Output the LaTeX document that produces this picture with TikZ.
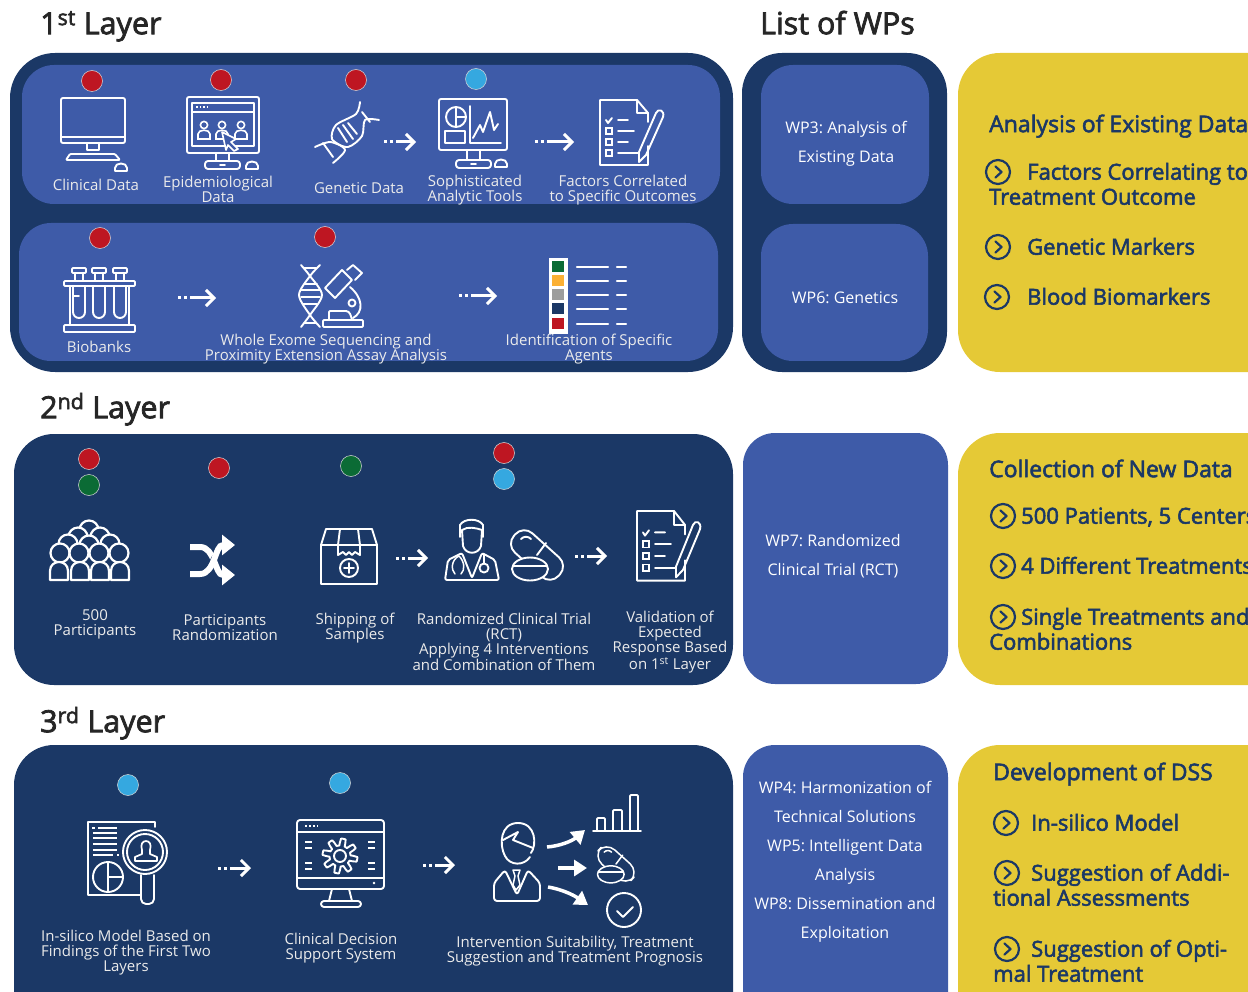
\documentclass[tikz,border=0pt]{standalone}
\usepackage{fontspec}
\setmainfont{Open Sans}
\newfontfamily\semibold[FakeBold=2.5]{Open Sans}
\usetikzlibrary{arrows.meta,positioning}
\definecolor{navy}{HTML}{1B3866}
\definecolor{midblue}{HTML}{3E5BA8}
\definecolor{mustard}{HTML}{E5C936}
\definecolor{dotred}{HTML}{BE1622}
\definecolor{dotgreen}{HTML}{0B6B35}
\definecolor{dotcyan}{HTML}{35A8E0}
\definecolor{swatchorange}{HTML}{FBB034}
\definecolor{swatchgray}{HTML}{9D9D9C}
\tikzset{
  panel/.style={rectangle, rounded corners=#1, inner sep=0, outer sep=0},
  navypanel/.style={panel=40pt, fill=navy},
  bluepanel/.style={panel=32pt, fill=midblue},
  yellowpanel/.style={panel=42pt, fill=mustard},
  statusdot/.style={circle, draw=white!70!gray, line width=0.5pt, minimum size=21pt, inner sep=0},
  heading/.style={anchor=mid west, yshift=-7.5pt, inner sep=0, font=\fontsize{30.5}{32}\selectfont\semibold, text=black!85},
  iconlabel/.style={align=center, inner sep=0, text=white!92!black, font=\frenchspacing\fontsize{15}{15}\selectfont},
  wplabel/.style={align=center, inner sep=0, text=white, font=\frenchspacing\fontsize{16}{29}\selectfont},
  yellowhead/.style={anchor=mid west, yshift=-5.5pt, inner sep=0, text=navy, font=\fontsize{23}{25}\selectfont\semibold},
  yellowitem/.style={anchor=mid west, yshift=-5pt, inner sep=0, text=navy, font=\fontsize{22}{25}\selectfont\semibold},
  iconline/.style={draw=white, line width=1.9pt, line join=round, line cap=round},
  flowarrow/.style={draw=white, line width=3pt, dash pattern=on 3pt off 3pt on 3pt off 3pt on 60pt off 0pt,
    -{Straight Barb[length=8pt,width=16pt,line width=3pt]}},
  branch/.style={draw=white, line width=3.5pt, -{Triangle[length=13pt,width=16pt]}},
  pics/bulletring/.style={code={
    \draw[navy, line width=2.2pt] (0,0) circle (12);
    \draw[navy, line width=2.2pt, line cap=round, line join=round] (-2.5,-5.5) -- (3.5,0) -- (-2.5,5.5);
  }},
  pics/clipboard/.style={code={
    \draw[iconline] (48,46) -- (48,65) -- (0,65) -- (0,0) -- (37,0) -- (48,13) -- (48,22);
    \draw[iconline] (37,0) -- (37,13) -- (48,13);
    \draw[iconline] (6,20) -- (8,23) -- (12,18) (18,20) -- (28,20);
    \foreach \r/\e in {31/34, 42/28, 53/38} {
      \draw[white, line width=1.6pt] (6,\r-3) rectangle (12,\r+3);
      \draw[iconline] (18,\r) -- (\e,\r);
    }
    \draw[iconline] (56,13) .. controls (58,8) and (65,10) .. (63,17) -- (46,55) -- (39,62) -- (39,52) -- cycle;
  }},
  pics/pillset/.style={code={
    \draw[iconline, rotate=-42, rounded corners=12pt] (-30,-13) rectangle (30,13);
    \draw[iconline] (9,-12) -- (0,0);
    \draw[iconline] (-16,-16) .. controls (-13,-19) and (-9,-19) .. (-6,-16);
    \draw[iconline, fill=navy] (-7,14) ellipse (18 and 11.5);
    \draw[iconline] (-24,11) -- (10,11);
  }},
  pics/computermouse/.style={code={
    \draw[iconline] (-6,4) -- (-6,1) .. controls (-6,-5) and (6,-5) .. (6,1) -- (6,4) -- cycle;
  }},
  pics/officer/.style={code={
    \draw[white, line width=1.6pt] (0,-7) circle (3.6);
    \draw[white, line width=1.6pt] (-6,7) -- (-6,2) .. controls (-6,-3) and (6,-3) .. (6,2) -- (6,7) -- cycle;
  }},
}
\begin{document}
\begin{tikzpicture}[x=1pt, y=-1pt]
    \useasboundingbox (0,0) rectangle (1248,992);
    \clip (0,0) rectangle (1248,992);

    % headings
    \node[heading] (FirstTitle) at (40,24) {1\textsuperscript{st} Layer};
    \node[heading] (ListTitle) at (760,24) {List of WPs};
    \node[heading] (SecondTitle) at (40,408) {2\textsuperscript{nd} Layer};
    \node[heading] (ThirdTitle) at (40,722) {3\textsuperscript{rd} Layer};

    % panels
    \node[navypanel, panel=45pt, minimum width=723pt, minimum height=319pt] (LayerOne) at (371.5,212.5) {};
    \node[bluepanel, minimum width=698pt, minimum height=139pt] (LayerOneTop) at (371,134.5) {};
    \node[bluepanel, minimum width=699pt, minimum height=138pt] (LayerOneBottom) at (368.5,292) {};
    \node[navypanel, minimum width=205pt, minimum height=319pt] (WpOne) at (844.5,212.5) {};
    \node[bluepanel, minimum width=168pt, minimum height=139pt] (WpThree) at (845,134.5) {};
    \node[bluepanel, minimum width=167pt, minimum height=137pt] (WpSix) at (844.5,292.5) {};
    \node[yellowpanel, minimum width=340pt, minimum height=319pt] (GoalOne) at (1128,212.5) {};

    \node[navypanel, minimum width=719pt, minimum height=251pt] (LayerTwo) at (373.5,559.5) {};
    \node[bluepanel, minimum width=205pt, minimum height=251pt] (WpSeven) at (845.5,558.5) {};
    \node[yellowpanel, minimum width=340pt, minimum height=252pt] (GoalTwo) at (1128,559) {};

    \node[navypanel, minimum width=719pt, minimum height=290pt] (LayerThree) at (373.5,890) {};
    \node[bluepanel, minimum width=205pt, minimum height=290pt] (WpRest) at (845.5,890) {};
    \node[yellowpanel, minimum width=340pt, minimum height=290pt] (GoalThree) at (1128,890) {};

    % status dots
    \node[statusdot, fill=dotred] (DotClinical) at (92,81) {};
    \node[statusdot, fill=dotred] (DotEpidem) at (221,80) {};
    \node[statusdot, fill=dotred] (DotGenetic) at (356,80) {};
    \node[statusdot, fill=dotcyan] (DotTools) at (476,79) {};
    \node[statusdot, fill=dotred] (DotBiobanks) at (100,238) {};
    \node[statusdot, fill=dotred] (DotExome) at (325,237) {};
    \node[statusdot, fill=dotred] (DotCrowdA) at (89,459) {};
    \node[statusdot, fill=dotgreen] (DotCrowdB) at (89,485) {};
    \node[statusdot, fill=dotred] (DotShuffle) at (219,468) {};
    \node[statusdot, fill=dotgreen] (DotBox) at (351,466) {};
    \node[statusdot, fill=dotred] (DotTrialA) at (504,453) {};
    \node[statusdot, fill=dotcyan] (DotTrialB) at (504,479) {};
    \node[statusdot, fill=dotcyan] (DotSilico) at (128,785) {};
    \node[statusdot, fill=dotcyan] (DotSupport) at (340,783) {};

    % clinical monitor
    \draw[iconline, rounded corners=2pt] (61,98) rectangle (125,143);
    \draw[iconline] (61,137) -- (125,137);
    \draw[iconline] (87,144) -- (87,150) -- (99,150) -- (99,144);
    \draw[iconline, rounded corners=1pt] (70,154) -- (115,154) -- (120,160) -- (66,160) -- cycle;
    \pic at (121,167) {computermouse};

    % epidemiological monitor
    \draw[iconline, rounded corners=2pt] (187,97) rectangle (259,153);
    \draw[iconline] (192,103) rectangle (254,146);
    \draw[iconline] (192,112) -- (254,112);
    \draw[white, line width=1.6pt, dotted] (196,107) -- (207,107);
    \foreach \c in {204,222,241} \pic at (\c,132) {officer};
    \draw[white, fill=midblue, line width=1.6pt, line join=round] (222,132) -- (236,139) -- (231,142) -- (238,149) -- (234,151) -- (228,145) -- (226,150) -- cycle;
    \draw[iconline] (216,153) -- (216,161) (229,153) -- (229,161);
    \draw[iconline, rounded corners=3pt] (205,161) rectangle (240,169);
    \draw[iconline] (220,165) -- (225,165);
    \pic at (252,165) {computermouse};

    % genetic data
    \draw[iconline] plot[smooth] coordinates {(360,102) (356,114) (336,125) (332,139) (345,150) (333,163)};
    \draw[iconline] plot[smooth] coordinates {(379,120) (365,120) (362,136) (348,147) (330,142) (315,147)};
    \draw[iconline] (338,128) -- (347,142) (343,125) -- (353,139) (348,123) -- (357,134) (362,112) -- (370,122) (323,143) -- (333,157);

    % analytic tools monitor
    \draw[iconline, rounded corners=2pt] (439,99) rectangle (507,150);
    \draw[iconline] (456,117) circle (10) (456,107) -- (456,127) (456,117) -- (466,117);
    \draw[iconline] (445,131) rectangle (465,143);
    \draw[iconline] (470,106) -- (470,143) -- (501,143);
    \draw[iconline] (473,138) -- (480,125) -- (483,132) -- (490,112) -- (494,130) -- (498,124);
    \draw[iconline] (467,150) -- (467,160) (480,150) -- (480,160);
    \draw[iconline, rounded corners=3pt] (456,160) rectangle (491,168);
    \draw[iconline] (471,164) -- (476,164);
    \pic at (501,163) {computermouse};

    \pic at (600,100) {clipboard};

    % biobanks rack
    \draw[iconline, rounded corners=1pt] (64,281) rectangle (135,286);
    \draw[iconline, rounded corners=1pt] (64,325) rectangle (135,332);
    \draw[iconline] (70,286) -- (70,325) (129,286) -- (129,325);
    \foreach \c in {79,99,120} {
      \draw[iconline] (\c-4,273) -- (\c-4,281) (\c+4,273) -- (\c+4,281);
      \draw[iconline, rounded corners=1pt] (\c-7,268) rectangle (\c+7,273);
      \draw[iconline] (\c-6,286) -- (\c-6,312) arc (180:0:6) -- (\c+6,286);
    }
    \draw[iconline] (73,296) -- (79,296);

    % exome sequencing and microscope
    \draw[iconline] plot[smooth] coordinates {(301,265) (310,276) (322,295) (310,315) (301,327)};
    \draw[iconline] plot[smooth] coordinates {(320,265) (310,276) (299,295) (310,315) (320,327)};
    \draw[iconline] (304,268) -- (316,268) (304,323) -- (316,323) (305,284) -- (317,284) (301,290) -- (320,290) (301,297) -- (320,297) (303,304) -- (317,304);
    \draw[iconline] (325,288) -- (335,298) -- (352,280) -- (342,270) -- cycle;
    \draw[iconline] (347,270) -- (353,265) -- (362,273) -- (355,280);
    \draw[iconline] (350,287) .. controls (363,298) and (364,312) .. (353,318);
    \draw[iconline] (352,303) circle (3.5);
    \draw[iconline, rounded corners=1pt] (323,320) rectangle (363,327);
    \draw[iconline, rounded corners=1pt] (329,320) -- (329,311) -- (345,311) .. controls (350,311) and (351,316) .. (352,320);

    % specific agents list
    \draw[white, fill=white] (549,258) rectangle (567,333);
    \foreach \y/\col in {267/dotgreen, 281/swatchorange, 295/swatchgray, 309/navy, 324/dotred} {
      \fill[\col] (552,\y-6) rectangle (564,\y+5);
      \draw[iconline, line width=2.4pt] (577,\y) -- (608,\y) (617,\y) -- (626,\y);
    }

    % crowd of participants
    \foreach \hx/\hy in {89/530, 78/537, 100/537, 68/544, 89/545, 110/544, 60/553, 79/553, 99/553, 119/553}
      \draw[iconline, line width=2.2pt, fill=navy] (\hx,\hy) circle (9.5);
    \foreach \bx in {50,71,91,111}
      \draw[iconline, line width=2.2pt, fill=navy] (\bx,580) -- (\bx,571) .. controls (\bx,559) and (\bx+18,559) .. (\bx+18,571) -- (\bx+18,580) -- cycle;

    % shuffle arrows
    \draw[white, line width=6pt, -{Triangle[length=13pt,width=20pt]}] (190,547) -- (200,547) .. controls (215,547) and (215,575) .. (235,575);
    \draw[navy, line width=10pt] (210,560) -- (214,562);
    \draw[white, line width=6pt, -{Triangle[length=13pt,width=20pt]}] (190,574) -- (200,574) .. controls (215,574) and (215,545) .. (235,545);

    % shipping box
    \draw[iconline] (321,545) -- (326,529) -- (372,529) -- (377,545);
    \draw[iconline] (321,545) rectangle (377,584);
    \draw[iconline] (340,529) -- (338,545) -- (338,555) -- (343,552) -- (346,555) -- (349,552) -- (352,555) -- (355,552) -- (360,555) -- (360,545) -- (358,529);
    \draw[iconline] (349,568) circle (9) (349,563) -- (349,573) (344,568) -- (354,568);

    % doctor with pills
    \draw[iconline] (460,537) -- (460,525) .. controls (464,518) and (479,518) .. (483,525) -- (483,537);
    \draw[iconline] (462,530) -- (463,546) .. controls (466,555) and (478,555) .. (481,546) -- (482,530);
    \draw[iconline] (462,530) .. controls (468,526) and (476,528) .. (482,530);
    \draw[iconline, rounded corners=2pt] (445,580) -- (448,560) -- (462,553) -- (472,578) -- (482,553) -- (495,560) -- (499,580) -- cycle;
    \draw[iconline, line width=1.5pt] (459,556) .. controls (451,560) and (451,570) .. (455,574) (459,556) .. controls (465,562) and (465,570) .. (461,574);
    \draw[iconline, line width=1.5pt] (484,554) -- (484,564);
    \draw[iconline] (484,568) circle (4.5);
    \pic at (537,555) {pillset};

    \pic[yscale=1.07] at (637,511) {clipboard};

    % silico report with magnifier
    \draw[iconline] (155,827) -- (155,822) -- (88,822) -- (88,895) -- (143,895);
    \draw[white, line width=2pt] (92,828) -- (95,828) (98,828) -- (117,828);
    \foreach \l in {833,838,844,850} \draw[white, line width=2pt] (93,\l) -- (117,\l);
    \draw[white, line width=2pt] (93,855) -- (113,855) (117,855) -- (119,855);
    \draw[iconline] (108,877) circle (15) (108,862) -- (108,892) (108,877) -- (123,877);
    \draw[iconline, fill=navy] (145,852) circle (22);
    \draw[iconline] (145,852) circle (18);
    \draw[iconline, line width=1.7pt] (142,850) .. controls (138,838) and (154,838) .. (150,850) -- (150,854) -- (157,857) -- (157,861) -- (135,861) -- (135,857) -- (142,854) -- cycle;
    \draw[iconline, fill=navy, rounded corners=5pt] (141,875) -- (141,904) -- (154,904) -- (154,875);

    % support system monitor
    \draw[iconline, rounded corners=3pt] (297,820) rectangle (384,889);
    \draw[iconline] (297,832) -- (384,832) (297,878) -- (384,878);
    \draw[white, line width=2pt, dotted] (305,826) -- (318,826);
    \foreach \d in {842,848,863,869} \draw[white, line width=2.2pt] (305,\d) -- (312,\d) (368,\d) -- (375,\d);
    \draw[white, fill=white] (374,883) circle (1);
    \draw[iconline] plot[domain=0:360, samples=97] ({(14+3.5*sign(sin(8*\x)))*cos(\x)+340},{(14+3.5*sign(sin(8*\x)))*sin(\x)+856}) -- cycle;
    \draw[iconline] (340,856) circle (6);
    \draw[iconline] (332,889) -- (329,901) (349,889) -- (352,901);
    \draw[iconline, rounded corners=3pt] (321,901) rectangle (361,907);

    % prognosis person with options
    \draw[iconline] (530,857) .. controls (524,866) and (510,866) .. (505,856) .. controls (499,845) and (500,823) .. (518,823) .. controls (536,823) and (537,845) .. (531,853);
    \draw[iconline] (503,840) -- (518,832) -- (513,840) -- (533,848);
    \draw[iconline, rounded corners=3pt] (494,901) -- (494,883) -- (505,870) -- (517,895) -- (528,870) -- (540,883) -- (540,901) -- cycle;
    \draw[iconline, line width=1.5pt] (513,870) -- (520,870) -- (518,876) -- (520,885) -- (516,890) -- (513,885) -- (515,876) -- cycle;
    \coordinate (OptionA) at (547,847); \coordinate (OptionATip) at (585,830);
    \coordinate (OptionB) at (558,868); \coordinate (OptionBTip) at (587,868);
    \coordinate (OptionC) at (548,887); \coordinate (OptionCTip) at (588,905);
    \draw[branch] (OptionA) .. controls (560,846) and (572,841) .. (OptionATip);
    \draw[branch] (OptionB) -- (OptionBTip);
    \draw[branch] (OptionC) .. controls (560,889) and (572,894) .. (OptionCTip);
    \draw[iconline] (593,831) -- (641,831);
    \draw[iconline, rounded corners=1pt] (597,831) -- (597,818) -- (605,818) -- (605,831);
    \draw[iconline, rounded corners=1pt] (613,831) -- (613,810) -- (622,810) -- (622,831);
    \draw[iconline, rounded corners=1pt] (630,831) -- (630,795) -- (638,795) -- (638,831);
    \pic[scale=0.74, iconline/.append style={line width=1.5pt}] at (616,864) {pillset};
    \draw[iconline] (624,910) circle (17) (617,911) -- (623,917) -- (633,907);

    % flow arrows
    \coordinate (GeneticOut) at (384,142); \coordinate (ToolsIn) at (416,142);
    \coordinate (ToolsOut) at (535,142); \coordinate (FactorsIn) at (574,142);
    \coordinate (BiobanksOut) at (178,298); \coordinate (ExomeIn) at (216,298);
    \coordinate (ExomeOut) at (459,296); \coordinate (AgentsIn) at (497,296);
    \coordinate (BoxOut) at (396,558); \coordinate (DoctorIn) at (428,558);
    \coordinate (PillOut) at (575,556); \coordinate (ReportIn) at (607,556);
    \coordinate (SilicoOut) at (218,868); \coordinate (SupportIn) at (251,868);
    \coordinate (SupportOut) at (423,865); \coordinate (PersonIn) at (455,865);
    \draw[flowarrow] (GeneticOut) -- (ToolsIn);
    \draw[flowarrow] (ToolsOut) -- (FactorsIn);
    \draw[flowarrow] (BiobanksOut) -- (ExomeIn);
    \draw[flowarrow] (ExomeOut) -- (AgentsIn);
    \draw[flowarrow] (BoxOut) -- (DoctorIn);
    \draw[flowarrow] (PillOut) -- (ReportIn);
    \draw[flowarrow] (SilicoOut) -- (SupportIn);
    \draw[flowarrow] (SupportOut) -- (PersonIn);

    % icon labels
    \node[iconlabel] (ClinicalLabel) at (96,185) {Clinical Data};
    \node[iconlabel] (EpidemLabel) at (218,189.5) {Epidemiological\\Data};
    \node[iconlabel] (GeneticLabel) at (359,188) {Genetic Data};
    \node[iconlabel] (ToolsLabel) at (475,190) {Sophisticated\\Analytic Tools};
    \node[iconlabel] (FactorsLabel) at (623,190) {Factors Correlated\\to Specific Outcomes};
    \node[iconlabel] (BiobanksLabel) at (99,347) {Biobanks};
    \node[iconlabel] (ExomeLabel) at (326,349) {Whole Exome Sequencing and\\Proximity Extension Assay Analysis};
    \node[iconlabel] (AgentsLabel) at (589,349) {Identification of Specific\\Agents};
    \node[iconlabel] (CrowdLabel) at (95,624) {500\\Participants};
    \node[iconlabel] (ShuffleLabel) at (225,628) {Participants\\Randomization};
    \node[iconlabel] (BoxLabel) at (355,628) {Shipping of\\Samples};
    \node[iconlabel] (TrialLabel) at (504,641.5) {Randomized Clinical Trial\\(RCT)\\Applying 4 Interventions\\and Combination of Them};
    \node[iconlabel] (ReportLabel) at (670,642) {Validation of\\Expected\\Response Based\\on 1\textsuperscript{st} Layer};
    \node[iconlabel] (SilicoLabel) at (126,953) {In-silico Model Based on\\Findings of the First Two\\Layers};
    \node[iconlabel] (SupportLabel) at (341,948) {Clinical Decision\\Support System};
    \node[iconlabel] (PrognosisLabel) at (575,951) {Intervention Suitability, Treatment\\Suggestion and Treatment Prognosis};

    % work packages
    \node[wplabel] (WpThreeText) at (846,144) {WP3: Analysis of\\Existing Data};
    \node[wplabel] (WpSixText) at (845,297.5) {WP6: Genetics};
    \node[wplabel] (WpSevenText) at (833,556) {WP7: Randomized\\Clinical Trial (RCT)};
    \node[wplabel] (WpRestText) at (845,862) {WP4: Harmonization of\\Technical Solutions\\WP5: Intelligent Data\\Analysis\\WP8: Dissemination and\\Exploitation};

    % existing data goals
    \node[yellowhead] (ExistingHead) at (989,124) {Analysis of Existing Data};
    \pic at (998,172) {bulletring};
    \node[yellowitem] (FactorsItem) at (1027,172) {Factors Correlating to};
    \node[yellowitem] (FactorsItemB) at (989,197) {Treatment Outcome};
    \pic at (998,247) {bulletring};
    \node[yellowitem] (MarkersItem) at (1027,247) {Genetic Markers};
    \pic at (997,297) {bulletring};
    \node[yellowitem] (BloodItem) at (1027,297) {Blood Biomarkers};

    % new data goals
    \node[yellowhead] (NewHead) at (989,469) {Collection of New Data};
    \pic at (1003,516) {bulletring};
    \node[yellowitem] (PatientsItem) at (1021,516) {500 Patients, 5 Centers};
    \pic at (1003,566) {bulletring};
    \node[yellowitem] (TreatItem) at (1021,566) {4 Different Treatments};
    \pic at (1003,617) {bulletring};
    \node[yellowitem] (SingleItem) at (1021,617) {Single Treatments and};
    \node[yellowitem] (SingleItemB) at (989,642) {Combinations};

    % dss goals
    \node[yellowhead] (DssHead) at (993,772) {Development of DSS};
    \pic at (1006,823) {bulletring};
    \node[yellowitem] (ModelItem) at (1031,823) {In-silico Model};
    \pic at (1007,873) {bulletring};
    \node[yellowitem] (AssessItem) at (1031,873) {Suggestion of Addi-};
    \node[yellowitem] (AssessItemB) at (993,898) {tional Assessments};
    \pic at (1007,949) {bulletring};
    \node[yellowitem] (OptimalItem) at (1031,949) {Suggestion of Opti-};
    \node[yellowitem] (OptimalItemB) at (993,974) {mal Treatment};
\end{tikzpicture}
\end{document}
